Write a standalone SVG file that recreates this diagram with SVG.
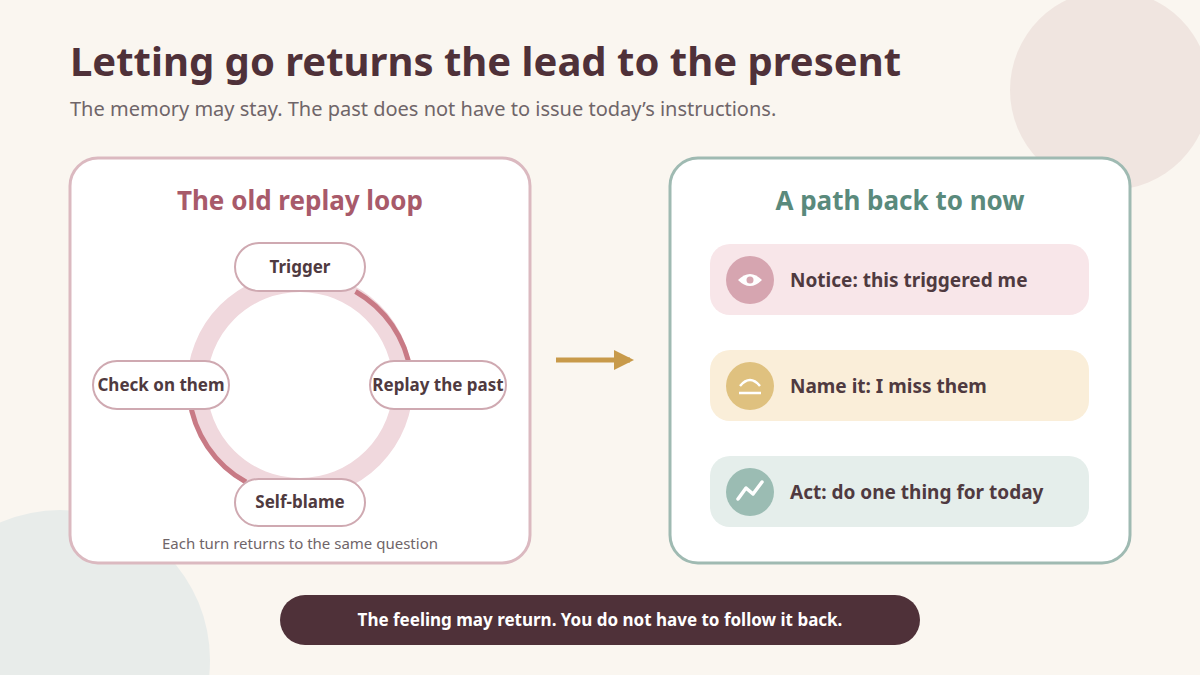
<svg xmlns="http://www.w3.org/2000/svg" width="1200" height="675" viewBox="0 0 1200 675">
<defs><style>
text{font-family:"Noto Sans","Open Sans",sans-serif}
.pill{fill:#fff;stroke:#cfa9b1;stroke-width:2}
.pt{font-size:17px;font-weight:700;fill:#4f3a40;text-anchor:middle}
.st{font-size:19px;font-weight:700;fill:#4f3a40}
</style>
<marker id="ah" viewBox="0 0 10 10" refX="8" refY="5" markerWidth="4" markerHeight="4" orient="auto"><path d="M0,0L10,5L0,10z" fill="#c89a4a"/></marker>
</defs>
<rect width="1200" height="675" fill="#faf6f0"/>
<circle cx="1110" cy="90" r="100" fill="#f0e5e0"/>
<circle cx="60" cy="660" r="150" fill="#e8ecea"/>
<text x="70" y="76" font-size="40" font-weight="700" fill="#4f3139">Letting go returns the lead to the present</text>
<text x="70" y="116" font-size="20" fill="#6f6569">The memory may stay. The past does not have to issue today’s instructions.</text>
<g id="left-panel">
<rect x="70" y="158" width="460" height="405" rx="28" fill="#fff" stroke="#dbb9c0" stroke-width="3"/>
<text x="300" y="210" font-size="26" font-weight="700" fill="#a85a6a" text-anchor="middle">The old replay loop</text>
<circle cx="300" cy="385" r="103" fill="none" stroke="#f0d8dd" stroke-width="20"/>
<text x="300" y="549" font-size="15" fill="#6f6569" text-anchor="middle">Each turn returns to the same question</text>
</g>
<g id="connectors">
<path d="M355.5,291.5 A111,111 0 0 1 410.5,372" fill="none" stroke="#c87a85" stroke-width="5"/>
<path d="M189.5,398 A111,111 0 0 0 246,482" fill="none" stroke="#c87a85" stroke-width="5"/>
<line x1="556" y1="360" x2="630" y2="360" stroke="#c89a4a" stroke-width="5" marker-end="url(#ah)"/>
<line x1="900" y1="320" x2="900" y2="344" stroke="#c89a4a" stroke-width="3" marker-end="url(#ah)"/>
<line x1="900" y1="426" x2="900" y2="450" stroke="#c89a4a" stroke-width="3" marker-end="url(#ah)"/>
</g>
<g id="trigger"><rect class="pill" x="235" y="243" width="130" height="48" rx="24"/><text class="pt" x="300" y="273">Trigger</text></g>
<g id="replay"><rect class="pill" x="370" y="361" width="136" height="48" rx="24"/><text class="pt" x="438" y="391">Replay the past</text></g>
<g id="check"><rect class="pill" x="93" y="361" width="136" height="48" rx="24"/><text class="pt" x="161" y="391">Check on them</text></g>
<g id="selfblame"><rect class="pill" x="235" y="479" width="130" height="47" rx="23.5"/><text class="pt" x="300" y="508">Self-blame</text></g>
<g id="right-panel">
<rect x="670" y="158" width="460" height="405" rx="28" fill="#fff" stroke="#9fbab2" stroke-width="3"/>
<text x="900" y="210" font-size="26" font-weight="700" fill="#5a8a7c" text-anchor="middle">A path back to now</text>
</g>
<g id="notice"><rect x="710" y="244" width="379" height="71" rx="20" fill="#f8e6e9"/>
<circle cx="750" cy="280" r="24" fill="#d6a5b0"/>
<path d="M738,280 Q750,268 762,280 Q750,292 738,280z" fill="#fff"/><circle cx="750" cy="280" r="3.5" fill="#d6a5b0"/>
<text class="st" x="790" y="287">Notice: this triggered me</text></g>
<g id="name"><rect x="710" y="350" width="379" height="71" rx="20" fill="#faeed9"/>
<circle cx="750" cy="386" r="24" fill="#dfc17f"/>
<path d="M740,386 Q750,374 760,386" fill="none" stroke="#fff" stroke-width="2.5"/><line x1="739" y1="393" x2="761" y2="393" stroke="#fff" stroke-width="2.5"/>
<text class="st" x="790" y="393">Name it: I miss them</text></g>
<g id="act"><rect x="710" y="456" width="379" height="71" rx="20" fill="#e5eeeb"/>
<circle cx="750" cy="492" r="24" fill="#9bbcb3"/>
<polyline points="738,499 746,488 753,494 762,482" fill="none" stroke="#fff" stroke-width="3.5" stroke-linecap="round" stroke-linejoin="round"/>
<text class="st" x="790" y="499">Act: do one thing for today</text></g>
<g id="footer"><rect x="280" y="595" width="640" height="50" rx="25" fill="#4f3139"/>
<text x="600" y="626" font-size="17" font-weight="700" fill="#fff" text-anchor="middle">The feeling may return. You do not have to follow it back.</text></g>
</svg>
